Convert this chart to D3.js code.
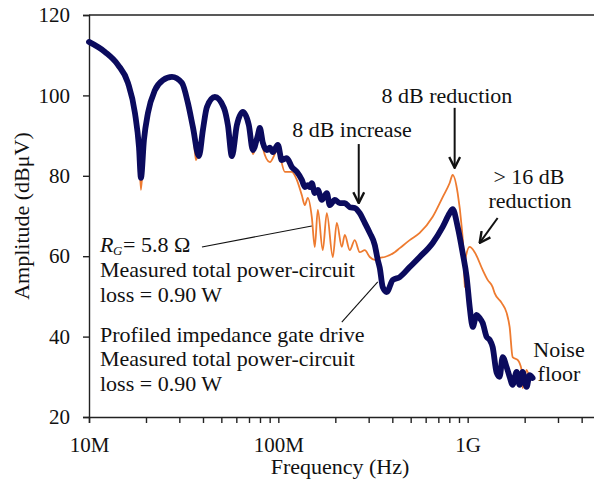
<!DOCTYPE html>
<html lang="en">
<head>
  <meta charset="UTF-8">
  <script src="https://d3js.org/d3.v7.min.js" charset="utf-8"></script>
  <title>Conducted emission spectrum</title>
  <style>
    body { margin: 0; background: #fff; }
    text { font-family: "Liberation Serif", "Times New Roman", serif; fill: #111; }
  </style>
</head>
<body>
  <script type="text/javascript">

    // frequency in MHz, amplitude in dBuV
    var profiledFreq = [10.0, 12.15, 14.22, 16.06, 17.49, 18.36, 18.81, 19.51, 20.48, 22.30, 24.58, 27.42, 30.96, 33.30, 35.39, 38.06, 39.96, 41.95, 46.23, 51.58, 54.15, 56.84, 60.39, 64.95, 69.87, 73.36, 77.95, 79.87, 82.83, 86.98, 90.19, 93.55, 99.40, 104.3, 110.9, 117.8, 125.2, 133.0, 138.0, 143.1, 146.6, 150.2, 155.8, 161.6, 169.7, 180.3, 187.0, 198.7, 211.2, 224.4, 238.4, 253.3, 269.2, 286.1, 304.1, 323.1, 335.1, 343.4, 356.1, 373.8, 402.0, 437.8, 494.1, 558.1, 653.7, 738.3, 803.5, 833.3, 885.6, 941.1, 987.9, 1024.7, 1049.8, 1062.7, 1115.5, 1157.0, 1200.0, 1259.9, 1306.7, 1355.1, 1422.6, 1475.6, 1530.4, 1606.6, 1665.8, 1728.0, 1814.0, 1881.4, 1951.1, 2047.9, 2124.2, 2203.0];
    var profiledAmp = [113.3, 110.8, 107.6, 103.1, 95.6, 87.2, 79.5, 88.9, 95.6, 101.3, 103.8, 104.6, 103.1, 98.1, 92.1, 84.9, 91.4, 97.1, 99.6, 96.9, 92.6, 84.9, 92.6, 95.9, 92.6, 86.4, 90.1, 91.9, 88.2, 86.4, 87.0, 85.9, 87.7, 83.9, 84.4, 82.2, 81.0, 79.0, 77.2, 77.7, 77.2, 78.2, 75.7, 76.5, 74.0, 75.7, 72.7, 74.0, 73.2, 73.2, 72.2, 72.0, 70.7, 68.3, 65.8, 62.8, 59.1, 57.1, 52.3, 51.1, 54.1, 54.8, 57.3, 59.8, 63.3, 67.3, 70.7, 71.7, 67.3, 60.8, 54.8, 47.4, 43.4, 42.4, 45.4, 44.6, 43.4, 39.9, 39.2, 37.4, 31.0, 30.0, 34.9, 32.4, 30.0, 28.0, 31.2, 28.0, 31.2, 27.5, 30.4, 29.7];

    var rgFreq = [10.0, 12.15, 14.22, 16.06, 17.49, 18.36, 18.81, 19.51, 20.48, 22.30, 24.58, 27.42, 30.96, 33.30, 35.39, 36.70, 38.06, 39.96, 41.95, 46.23, 51.58, 54.15, 56.84, 60.39, 64.95, 69.87, 73.36, 77.95, 79.87, 82.83, 90.19, 99.40, 108.2, 117.8, 125.2, 133.0, 138.0, 143.1, 150.2, 155.8, 161.6, 171.7, 180.3, 194.0, 203.6, 216.4, 224.4, 238.4, 253.3, 269.2, 286.1, 304.1, 323.1, 343.4, 364.8, 411.9, 437.8, 494.1, 558.1, 653.7, 738.3, 803.5, 833.3, 885.6, 929.7, 952.6, 964.3, 976.0, 1024.7, 1088.7, 1200.0, 1275.3, 1355.1, 1388.5, 1511.9, 1606.6, 1665.8, 1728.0, 1836.3, 1927.6, 1951.1, 2047.9, 2124.2];
    var rgAmp = [113.3, 110.8, 107.6, 103.1, 95.6, 86.4, 76.5, 87.7, 95.6, 101.3, 103.8, 104.6, 103.1, 98.1, 91.8, 83.9, 86.4, 91.4, 97.1, 99.6, 96.9, 92.6, 84.4, 92.6, 95.9, 92.0, 85.4, 89.4, 91.1, 86.9, 83.4, 86.4, 81.0, 81.0, 79.0, 75.2, 72.7, 74.5, 69.8, 62.3, 71.5, 61.5, 70.7, 59.8, 68.3, 62.3, 65.3, 61.5, 64.0, 61.0, 61.5, 59.8, 59.1, 59.6, 59.8, 61.0, 62.0, 64.0, 65.8, 69.8, 74.7, 78.2, 80.2, 75.7, 67.3, 60.3, 52.3, 59.6, 62.3, 61.0, 56.6, 54.1, 52.3, 50.8, 48.4, 45.9, 42.4, 34.9, 34.2, 31.7, 27.2, 31.7, 29.2];

    var yTicks = [20, 40, 60, 80, 100, 120];
    var xLabels = { 10: "10M", 100: "100M", 1000: "1G" };

    var W = 594, H = 486;
    var margin = { top: 15, left: 89, bottom: 69 };
    var fs = 22;

    var svg = d3.select("body").append("svg")
      .attr("width", W)
      .attr("height", H);

    var x = d3.scaleLog().domain([10, 5000]).range([margin.left, 600]);
    var y = d3.scaleLinear().domain([20, 120]).range([H - margin.bottom, margin.top]);

    // all minor ticks 1..9 per decade
    var xTickVals = [];
    [10, 100, 1000].forEach(function (d) {
      for (var k = 1; k < 10; k++) xTickVals.push(d * k);
    });

    var xAxis = d3.axisBottom(x)
      .tickValues(xTickVals)
      .tickSize(6)
      .tickPadding(14)
      .tickFormat(function (d) { return xLabels[d] || ""; });
    var gx = svg.append("g")
      .attr("transform", "translate(0," + y(20) + ")")
      .call(xAxis);

    var yAxis = d3.axisLeft(y)
      .tickValues(yTicks)
      .tickSize(6)
      .tickPadding(13);
    var gy = svg.append("g")
      .attr("transform", "translate(" + x(10) + ",0)")
      .call(yAxis);

    [gx, gy].forEach(function (g) {
      g.selectAll("path, line").attr("stroke", "#222").attr("stroke-width", 1.4);
      g.selectAll("text").attr("font-size", 21).attr("font-family", "Liberation Serif").attr("fill", "#111");
    });

    // top border
    svg.append("line")
      .attr("x1", x(10)).attr("x2", 600)
      .attr("y1", y(120)).attr("y2", y(120))
      .attr("stroke", "#222").attr("stroke-width", 1.4);

    var line = d3.line()
      .x(function (d) { return x(d[0]); })
      .y(function (d) { return y(d[1]); })
      .curve(d3.curveMonotoneX);

    var rgData = d3.zip(rgFreq, rgAmp);
    var profiledData = d3.zip(profiledFreq, profiledAmp);

    svg.append("path")
      .datum(rgData)
      .attr("d", line)
      .attr("fill", "none")
      .attr("stroke", "#ee7b30")
      .attr("stroke-width", 1.8)
      .attr("stroke-linejoin", "round");

    svg.append("path")
      .datum(profiledData)
      .attr("d", line)
      .attr("fill", "none")
      .attr("stroke", "#0b0b5e")
      .attr("stroke-width", 5.8)
      .attr("stroke-linejoin", "round")
      .attr("stroke-linecap", "round");

    // arrow heads
    svg.append("defs").append("marker")
      .attr("id", "head")
      .attr("markerUnits", "userSpaceOnUse")
      .attr("viewBox", "0 0 12 12")
      .attr("refX", 11).attr("refY", 6)
      .attr("markerWidth", 13).attr("markerHeight", 13)
      .attr("orient", "auto")
      .append("path")
      .attr("d", "M1,1 L11,6 L1,11")
      .attr("fill", "none")
      .attr("stroke", "#111")
      .attr("stroke-width", 2.2);

    // arrows / leader lines, in data coords [MHz, dB]
    var arrows = [
      [[265.9, 87.9], [265.9, 73.2]],
      [[853.7, 96.9], [853.7, 82.0]],
      [[1440, 69.5], [1157, 63.3]]
    ];
    var leaders = [
      [[39.5, 62.3], [150.2, 67.5]],
      [[216.4, 43.6], [335.1, 53.6]]
    ];

    arrows.forEach(function (a) {
      svg.append("line")
        .attr("x1", x(a[0][0])).attr("y1", y(a[0][1]))
        .attr("x2", x(a[1][0])).attr("y2", y(a[1][1]))
        .attr("stroke", "#111").attr("stroke-width", 2)
        .attr("marker-end", "url(#head)");
    });
    leaders.forEach(function (a) {
      svg.append("line")
        .attr("x1", x(a[0][0])).attr("y1", y(a[0][1]))
        .attr("x2", x(a[1][0])).attr("y2", y(a[1][1]))
        .attr("stroke", "#111").attr("stroke-width", 1.1);
    });

    function label(tx, ty, str, anchor) {
      return svg.append("text")
        .attr("x", tx).attr("y", ty)
        .attr("font-size", fs)
        .attr("text-anchor", anchor || "start")
        .text(str);
    }

    label(352, 137, "8 dB increase", "middle");
    label(447, 103, "8 dB reduction", "middle");
    label(529, 184, "> 16 dB", "middle");
    label(530, 208, "reduction", "middle");
    label(559, 357, "Noise", "middle");
    label(559, 381, "floor", "middle");

    // R_G label: main letter and subscript as separate texts
    label(100, 252, "R").attr("font-style", "italic");
    label(113, 255, "G").attr("font-style", "italic").attr("font-size", 13);
    label(123, 252, "= 5.8 \u03A9");
    label(100, 277, "Measured total power-circuit");
    label(100, 302, "loss = 0.90 W");
    label(100, 342, "Profiled impedance gate drive");
    label(100, 366, "Measured total power-circuit");
    label(100, 391, "loss = 0.90 W");

    // axis titles
    label(340, 474, "Frequency (Hz)", "middle");
    svg.append("text")
      .attr("transform", "translate(29,216) rotate(-90)")
      .attr("text-anchor", "middle")
      .attr("font-size", fs)
      .text("Amplitude (dB\u03BCV)");

  </script>
</body>
</html>
